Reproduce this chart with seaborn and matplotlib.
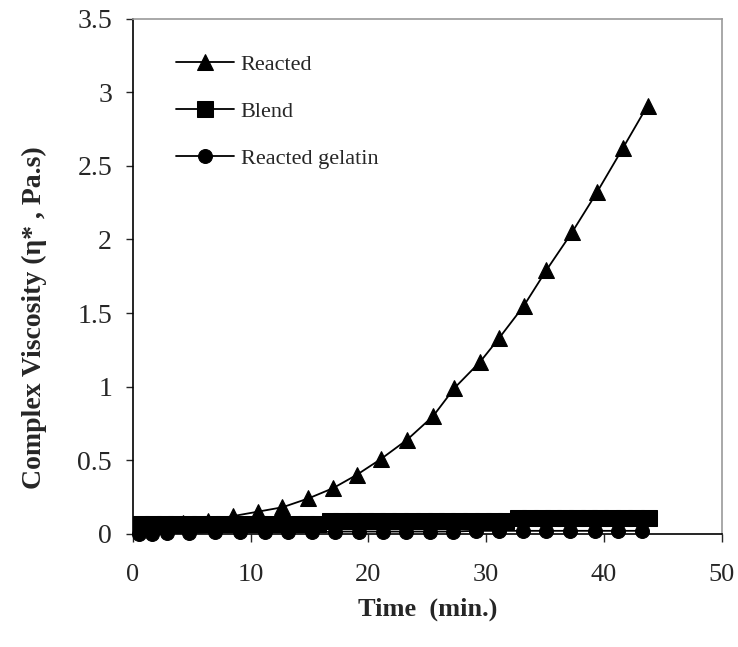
import matplotlib
matplotlib.use("Agg")
import matplotlib.pyplot as plt
import matplotlib.ticker as mtick
import seaborn as sns

# Reacted (triangles)
t_reacted = [0.7, 2.2, 4.3, 6.4, 8.5, 10.6, 12.7, 14.9, 17.0, 19.0, 21.1, 23.3,
             25.5, 27.3, 29.5, 31.1, 33.2, 35.1, 37.3, 39.4, 41.6, 43.7]
v_reacted = [0.05, 0.06, 0.075, 0.09, 0.12, 0.15, 0.18, 0.24, 0.31, 0.40, 0.51, 0.64,
             0.80, 0.99, 1.17, 1.33, 1.55, 1.79, 2.05, 2.32, 2.62, 2.91]

# Blend (squares)
t_blend = [0.7, 1.7, 2.7, 3.7, 4.7, 5.7, 6.7, 7.7, 8.7, 9.7, 10.7, 11.7, 12.7, 13.7,
           14.7, 15.7, 16.7, 17.7, 18.7, 19.7, 20.7, 21.7, 22.7, 23.7, 24.7, 25.7,
           26.7, 27.7, 28.7, 29.7, 30.7, 31.7, 32.7, 33.7, 34.7, 35.7, 36.7, 37.7,
           38.7, 39.7, 40.7, 41.7, 42.7, 43.8]
v_blend = [0.065, 0.065, 0.065, 0.065, 0.065, 0.065, 0.065, 0.065, 0.065, 0.065,
           0.065, 0.065, 0.065, 0.065, 0.065, 0.065, 0.09, 0.09, 0.09, 0.09, 0.09,
           0.09, 0.09, 0.09, 0.09, 0.09, 0.09, 0.09, 0.09, 0.09, 0.09, 0.09, 0.11,
           0.11, 0.11, 0.11, 0.11, 0.11, 0.11, 0.11, 0.11, 0.11, 0.11, 0.11]

# Reacted gelatin (circles)
t_gelatin = [0.5, 1.6, 2.9, 4.8, 7.0, 9.1, 11.2, 13.2, 15.2, 17.2, 19.2, 21.2,
             23.2, 25.2, 27.2, 29.1, 31.1, 33.1, 35.1, 37.1, 39.2, 41.2, 43.2]
v_gelatin = [0.0, 0.0, 0.005, 0.005, 0.01, 0.01, 0.01, 0.01, 0.01, 0.015, 0.015, 0.015,
             0.015, 0.015, 0.015, 0.02, 0.02, 0.02, 0.02, 0.02, 0.02, 0.02, 0.02]

x_ticks = [0, 10, 20, 30, 40, 50]
y_ticks = [0, 0.5, 1, 1.5, 2, 2.5, 3, 3.5]

sns.set_style("ticks")
plt.rcParams["font.family"] = ["Liberation Serif", "DejaVu Serif"]

fig = plt.figure(figsize=(7.38, 6.47), dpi=100)
ax = fig.add_axes([0.180, 0.175, 0.798, 0.796])

sns.lineplot(x=t_reacted, y=v_reacted, ax=ax, color="black", lw=1.3, marker="^",
             markersize=11, markeredgecolor="black", label="Reacted", sort=False,
             clip_on=False)
sns.lineplot(x=t_blend, y=v_blend, ax=ax, color="black", lw=1.3, marker="s",
             markersize=11, markeredgecolor="black", label="Blend", sort=False,
             clip_on=False)
sns.lineplot(x=t_gelatin, y=v_gelatin, ax=ax, color="black", lw=1.3, marker="o",
             markersize=10, markeredgecolor="black", label="Reacted gelatin", sort=False,
             clip_on=False)

ax.set_xlim(0, 50)
ax.set_ylim(0, 3.5)
ax.set_xticks(x_ticks)
ax.set_yticks(y_ticks)
ax.yaxis.set_major_formatter(mtick.FormatStrFormatter("%g"))
ax.tick_params(axis="x", length=6, width=1, pad=16, labelsize=19, direction="out")
ax.tick_params(axis="y", length=5, width=1, pad=10, labelsize=20, direction="out")

ax.set_xlabel("Time  (min.)", fontsize=19, fontweight="bold", labelpad=8)
ax.set_ylabel("Complex Viscosity (\u03b7* , Pa.s)", fontsize=20, fontweight="bold")
ax.yaxis.set_label_coords(-0.145, 0.42)

for side in ["left", "bottom"]:
    ax.spines[side].set_color("black")
    ax.spines[side].set_linewidth(1.2)
for side in ["top", "right"]:
    ax.spines[side].set_color("#9a9a9a")
    ax.spines[side].set_linewidth(1.2)

ax.legend(loc="upper left", bbox_to_anchor=(0.04, 0.97), frameon=False,
          fontsize=16, handlelength=2.6, labelspacing=1.2, handletextpad=0.3,
          numpoints=1)

fig.savefig("out.png", dpi=100)
